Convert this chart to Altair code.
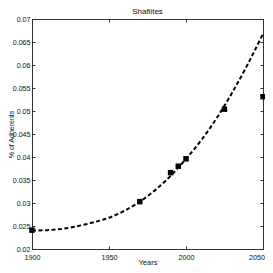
import altair as alt
import pandas as pd

obs_years = [1900, 1970, 1990, 1995, 2000, 2025, 2050]
obs_pct = [0.0241, 0.0303, 0.0366, 0.0380, 0.0396, 0.0504, 0.0531]

# fitted (dashed) curve
fit_years = [1900, 1910, 1920, 1930, 1940, 1950, 1960, 1970,
             1980, 1990, 2000, 2010, 2020, 2030, 2040, 2050]
fit_pct = [0.0240, 0.0241, 0.0244, 0.0250, 0.0258, 0.0268, 0.0283, 0.0303,
           0.0328, 0.0359, 0.0396, 0.0437, 0.0485, 0.0540, 0.0601, 0.0668]

x_ticks = [1900, 1950, 2000, 2050]
y_ticks = [0.02, 0.025, 0.03, 0.035, 0.04, 0.045, 0.05, 0.055, 0.06, 0.065, 0.07]

obs = pd.DataFrame({"year": obs_years, "pct": obs_pct})
fit = pd.DataFrame({"year": fit_years, "pct": fit_pct})

W, H = 231, 230
FONT = "Liberation Sans"
AX = "#333333"

xs = alt.Scale(domain=[1900, 2050], nice=False, zero=False)
ys = alt.Scale(domain=[0.02, 0.07], nice=False, zero=False)

common = dict(grid=False, domain=True, domainColor=AX, domainWidth=1,
              tickColor=AX, tickSize=3, tickWidth=1)

last_x = "datum.value == %d" % x_ticks[-1]

# layer 1: labels + titles (no ticks)
curve = alt.Chart(fit).mark_line(
    color="black", strokeWidth=2, strokeDash=[4, 2.5], interpolate="monotone"
).encode(
    x=alt.X("year:Q", scale=xs, axis=alt.Axis(
        orient="bottom", values=x_ticks, format="d", ticks=False, domain=False, grid=False,
        labelFlush=False, labelFont=FONT, labelFontSize=7.2, labelColor="#111",
        labelPadding=4,
        labelAlign={"condition": {"test": last_x, "value": "right"}, "value": "center"},
        labelOffset={"condition": {"test": last_x, "value": 1.5}, "value": 0},
        title="Years", titleFont=FONT, titleFontSize=7.5, titleFontWeight="normal",
        titleColor="#111", titleX=W / 2, titleY=15, titleAlign="center",
        titleBaseline="alphabetic")),
    y=alt.Y("pct:Q", scale=ys, axis=alt.Axis(
        orient="left", values=y_ticks, format="~g", ticks=False, domain=False, grid=False,
        labelFlush=False, labelFont=FONT, labelFontSize=7.1, labelColor="#111",
        labelPadding=2,
        title="% of Adherents", titleFont=FONT, titleFontSize=7, titleFontWeight="normal",
        titleColor="#111", titleX=-18.6, titleY=H / 2, titleAngle=270,
        titleAlign="center", titleBaseline="alphabetic")),
)

# layer 2: inward ticks on bottom and left
pts = alt.Chart(obs).mark_square(size=30, color="black", opacity=1).encode(
    x=alt.X("year:Q", scale=xs, axis=alt.Axis(
        orient="top", offset=-H, values=x_ticks, labels=False, title=None, **common)),
    y=alt.Y("pct:Q", scale=ys, axis=alt.Axis(
        orient="right", offset=-W, values=y_ticks, labels=False, title=None, **common)),
)

# layer 3: inward ticks on top and right
pts2 = alt.Chart(obs).mark_square(size=30, color="black", opacity=0).encode(
    x=alt.X("year:Q", scale=xs, axis=alt.Axis(
        orient="bottom", offset=-H, values=x_ticks, labels=False, title=None, **common)),
    y=alt.Y("pct:Q", scale=ys, axis=alt.Axis(
        orient="left", offset=-W, values=y_ticks, labels=False, title=None, **common)),
)

chart = alt.layer(curve, pts, pts2).resolve_axis(
    x="independent", y="independent"
).properties(
    width=W, height=H,
    autosize=alt.AutoSizeParams(type="none"),
    padding={"left": 24, "top": 11, "right": 2, "bottom": 16},
    title=alt.TitleParams("Shafiites", font=FONT, fontSize=8, fontWeight="normal",
                          color="#111", anchor="middle", offset=4, dy=5),
).configure_view(stroke=AX, strokeWidth=1)

chart.save("out.html", embed_options={"renderer": "svg", "actions": False})
